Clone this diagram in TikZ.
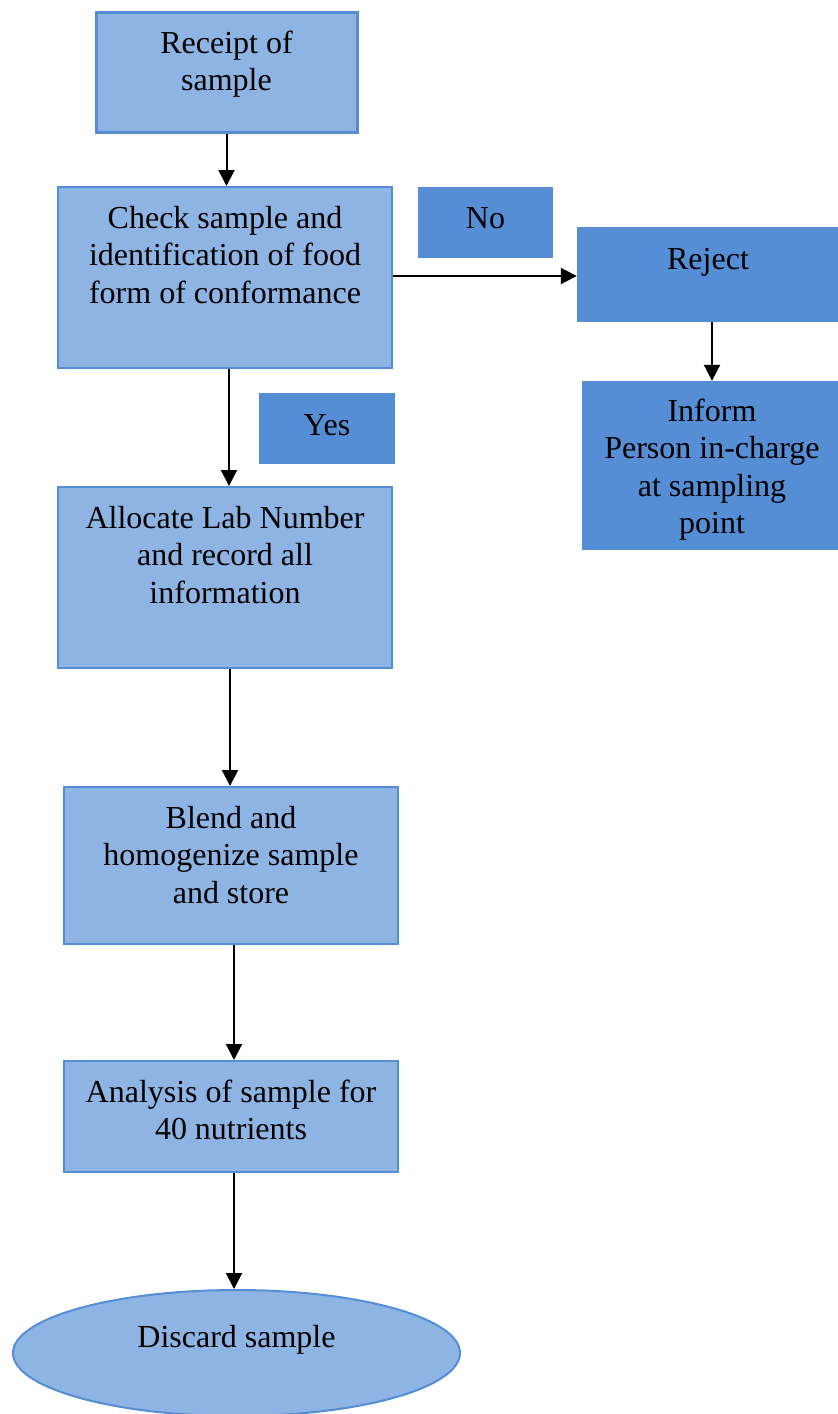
\documentclass[tikz,border=0pt]{standalone}
\usepackage{fontspec}
\setmainfont{Liberation Serif}
\usetikzlibrary{arrows.meta,shapes.geometric}
\definecolor{lightblue}{HTML}{8EB4E3}
\definecolor{midblue}{HTML}{558ED5}
\tikzset{
  lightbox/.style={rectangle, fill=lightblue, draw=midblue, line width=2pt, inner sep=0pt},
  darkbox/.style={rectangle, fill=midblue, inner sep=0pt},
  txt/.style={anchor=north, align=center, inner sep=0pt, font=\fontsize{32}{37.5}\selectfont},
  conn/.style={line width=2pt, -{Triangle[length=16pt,width=16pt]}}
}
\newcommand{\bs}{\strut}
\begin{document}
\begin{tikzpicture}[x=1pt,y=-1pt]
\useasboundingbox (0,0) rectangle (838,1414);
% boxes
\node[lightbox, line width=3pt, minimum width=261pt, minimum height=120pt] (receipt) at (226.5,72) {};
\node[lightbox, minimum width=334pt, minimum height=181pt] (check) at (225,277.5) {};
\node[darkbox, minimum width=135pt, minimum height=71pt] (no) at (485.5,222.5) {};
\node[darkbox, minimum width=261pt, minimum height=95pt] (reject) at (707.5,274.5) {};
\node[darkbox, minimum width=256pt, minimum height=169pt] (inform) at (710,465.5) {};
\node[darkbox, minimum width=136pt, minimum height=71pt] (yes) at (327,428.5) {};
\node[lightbox, minimum width=334pt, minimum height=181pt] (alloc) at (225,577.5) {};
\node[lightbox, minimum width=334pt, minimum height=157pt] (blend) at (231,865.5) {};
\node[lightbox, minimum width=334pt, minimum height=111pt] (analysis) at (231,1116.5) {};
\node[ellipse, fill=lightblue, draw=midblue, line width=2pt, inner sep=0pt, minimum width=447pt, minimum height=126pt] (discard) at (236.5,1353) {};
% texts
\node[txt] (treceipt) at (226.5,26.75) {\bs Receipt of\\\bs sample};
\node[txt] (tcheck) at (225,201.75) {\bs Check sample and\\\bs identification of food\\\bs form of conformance};
\node[txt] (tno) at (485.5,202.25) {\bs No};
\node[txt] (treject) at (708,242.75) {\bs Reject};
\node[txt] (tinform) at (712,394.75) {\bs Inform\\\bs Person in-charge\\\bs at sampling\\\bs point};
\node[txt] (tyes) at (327,409.25) {\bs Yes};
\node[txt] (talloc) at (225,501.75) {\bs Allocate Lab Number\\\bs and record all\\\bs information};
\node[txt] (tblend) at (231,801.75) {\bs Blend and\\\bs homogenize sample\\\bs and store};
\node[txt] (tanalysis) at (231,1075.75) {\bs Analysis of sample for\\\bs 40 nutrients};
\node[txt] (tdiscard) at (236.5,1321.25) {\bs Discard sample};
% connectors
\draw[conn] (receipt.south) -- (receipt.south |- check.north);
\draw[conn] ([yshift=1.5pt]check.east) -- ([yshift=1.5pt]check.east -| reject.west);
\draw[conn] ([xshift=4.5pt]reject.south) -- ([xshift=4.5pt]reject.south |- inform.north);
\draw[conn] ([xshift=4pt]check.south) -- ([xshift=4pt]alloc.north);
\draw[conn] ([xshift=5pt]alloc.south) -- ([xshift=-1pt]blend.north);
\draw[conn] ([xshift=3pt]blend.south) -- ([xshift=3pt]analysis.north);
\draw[conn] ([xshift=3pt]analysis.south) -- ([xshift=3pt]analysis.south |- discard.north);
\end{tikzpicture}
\end{document}
